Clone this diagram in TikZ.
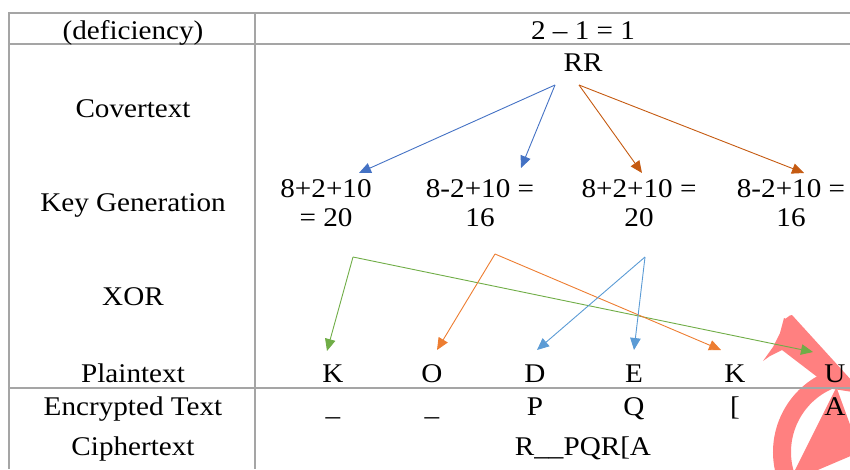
\documentclass[tikz,border=0pt]{standalone}
\usepackage{fontspec}
\setmainfont{Liberation Serif}[FakeStretch=1.08]
\usetikzlibrary{arrows.meta}
\definecolor{tblgray}{RGB}{165,165,165}
\definecolor{wmred}{RGB}{255,128,128}
\definecolor{topblue}{RGB}{68,114,196}
\definecolor{toporange}{RGB}{197,90,17}
\definecolor{xgreen}{RGB}{112,173,71}
\definecolor{xorange}{RGB}{237,125,49}
\definecolor{xblue}{RGB}{91,155,213}
\newcommand\fsz{\fontsize{27}{29}\selectfont}
\begin{document}
\begin{tikzpicture}[x=1pt,y=-1pt,
  lbl/.style={font=\fsz, anchor=base, inner sep=0pt},
  tbl/.style={draw=tblgray, line width=1.6pt},
  arr/.style={line width=0.9pt, -{Triangle[length=12pt,width=10.5pt]}},
]
\useasboundingbox (0,0) rectangle (850,469);
% watermark
\begin{scope}
\clip (0,0) rectangle (850,469);
\fill[wmred] (784,318) to[out=-60,in=170] (792,315) -- (853,382) -- (853,392) -- (833,389)
  -- (782,350) -- (770,356) -- (763,361) -- (773,347) -- (780,333) -- cycle;
\fill[wmred] (860,452) ++(250:87) arc[start angle=250, end angle=163, radius=87]
  -- ++(0,10) -- (860,452) ++(163:69) arc[start angle=163, end angle=250, radius=69] -- cycle;
\end{scope}
% table
\draw[tbl] (850,13) -- (9,13) -- (9,469);
\draw[tbl] (255,13) -- (255,469);
\draw[tbl] (9,44) -- (850,44);
\draw[tbl] (9,388) -- (850,388);
% left column
\node[lbl] (defic) at (133,39) {(deficiency)};
\node[lbl] (cover) at (133,117) {Covertext};
\node[lbl] (keygen) at (133,211) {Key Generation};
\node[lbl] (xor) at (133,305) {XOR};
\node[lbl] (plain) at (133,382) {Plaintext};
\node[lbl] (enc) at (133,415) {Encrypted Text};
\node[lbl] (ciph) at (133,455) {Ciphertext};
% right column
\node[lbl] (diff) at (583,39) {2 – 1 = 1};
\node[lbl] (rr) at (583,71) {RR};
\node[lbl, align=center] (k1) at (326,226) {8+2+10\\= 20};
\node[lbl, align=center] (k2) at (480,226) {8-2+10 =\\16};
\node[lbl, align=center] (k3) at (639,226) {8+2+10 =\\20};
\node[lbl, align=center] (k4) at (791,226) {8-2+10 =\\16};
\node[lbl] (p1) at (333,382) {K};
\node[lbl] (p2) at (432,382) {O};
\node[lbl] (p3) at (535,382) {D};
\node[lbl] (p4) at (634,382) {E};
\node[lbl] (p5) at (735,382) {K};
\node[lbl] (p6) at (835,382) {U};
\node[lbl] (e1) at (333,415) {\_};
\node[lbl] (e2) at (432,415) {\_};
\node[lbl] (e3) at (535,415) {P};
\node[lbl] (e4) at (634,415) {Q};
\node[lbl] (e5) at (735,415) {[};
\node[lbl] (e6) at (835,415) {A};
\node[lbl] (ct) at (583,455) {R\_\_PQR[A};
% arrow points
\coordinate (bsrc) at (555,85);
\coordinate (osrc) at (579,85);
\coordinate (tk1) at (359,173);
\coordinate (tk2) at (521,168);
\coordinate (tk3) at (642,173);
\coordinate (tk4) at (804,173);
\coordinate (gc) at (353,257);
\coordinate (oc) at (495,254);
\coordinate (bc) at (645,257);
\coordinate (tp1) at (327,351);
\coordinate (tp2) at (437,350);
\coordinate (tp3) at (537,350);
\coordinate (tp4) at (634,350);
\coordinate (tp5) at (721,350);
\coordinate (tp6) at (813,352);
% arrows
\draw[arr, topblue] (bsrc) -- (tk1);
\draw[arr, topblue] (bsrc) -- (tk2);
\draw[arr, toporange] (osrc) -- (tk3);
\draw[arr, toporange] (osrc) -- (tk4);
\draw[arr, xgreen] (gc) -- (tp1);
\draw[arr, xgreen] (gc) -- (tp6);
\draw[arr, xorange] (oc) -- (tp2);
\draw[arr, xorange] (oc) -- (tp5);
\draw[arr, xblue] (bc) -- (tp3);
\draw[arr, xblue] (bc) -- (tp4);
\end{tikzpicture}
\end{document}
